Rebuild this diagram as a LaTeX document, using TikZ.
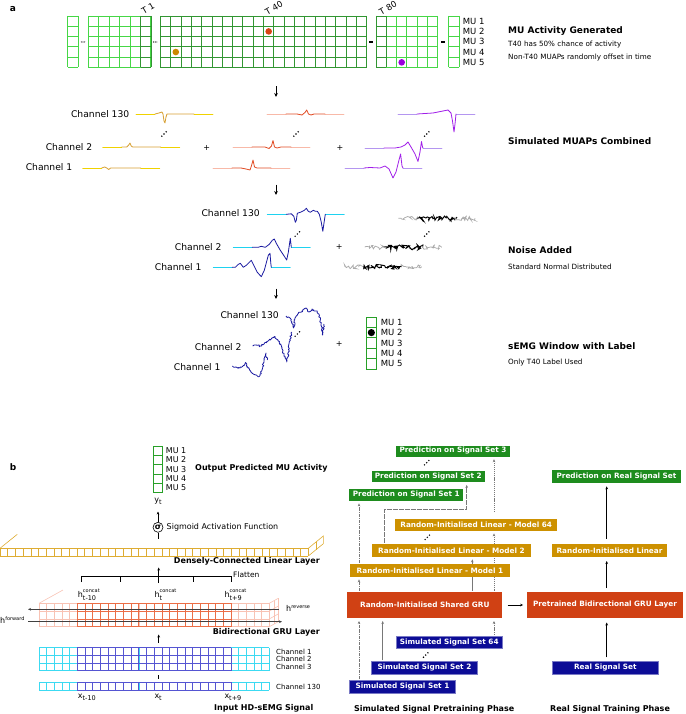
\documentclass[tikz,border=0pt]{standalone}
\usepackage{fontspec}
\setmainfont{DejaVu Sans}
\usetikzlibrary{arrows.meta,decorations.pathmorphing,calc}
\pgfdeclarelayer{bg}
\pgfsetlayers{bg,main}
\definecolor{lgreen}{RGB}{70,215,70}
\definecolor{dgreen}{RGB}{50,150,50}
\definecolor{mugreen}{RGB}{40,160,40}
\definecolor{cyel}{RGB}{240,210,0}
\definecolor{cochre}{RGB}{215,160,50}
\definecolor{cpink}{RGB}{248,185,168}
\definecolor{credw}{RGB}{225,75,35}
\definecolor{clpurp}{RGB}{180,150,240}
\definecolor{cpurp}{RGB}{160,30,232}
\definecolor{ccyan}{RGB}{30,210,240}
\definecolor{cblue}{RGB}{25,25,160}
\definecolor{cngray}{RGB}{170,170,170}
\definecolor{dotred}{RGB}{216,67,21}
\definecolor{dotor}{RGB}{204,136,0}
\definecolor{dotpu}{RGB}{153,0,221}
\definecolor{boxgreen}{RGB}{30,140,30}
\definecolor{boxorange}{RGB}{205,145,0}
\definecolor{boxred}{RGB}{208,65,20}
\definecolor{boxblue}{RGB}{12,12,150}
\definecolor{densec}{RGB}{222,172,50}
\definecolor{grulight}{RGB}{248,195,180}
\definecolor{grudark}{RGB}{235,110,70}
\definecolor{incyan}{RGB}{60,218,242}
\definecolor{inblue}{RGB}{85,85,210}
\definecolor{connc}{RGB}{120,120,120}
\newcommand{\cellgrid}[7]{%
\foreach \ii in {0,...,#5} \draw[#1] (#2,{#3+\ii*#7}) -- ({#2+#4*#6},{#3+\ii*#7});
\foreach \jj in {0,...,#4} \draw[#1] ({#2+\jj*#6},#3) -- ({#2+\jj*#6},{#3+#5*#7});
}
\newcommand{\diagdots}[2]{\fill[black] ({#1-2.2},{#2+2.2}) circle (0.8) (#1,#2) circle (0.8) ({#1+2.2},{#2-2.2}) circle (0.8);}
\newcommand{\mtrace}[5]{%
\begin{scope}[shift={(#1,#2)}]
\draw[trc,#3] (0,0)--(19,0) (58,0)--(77,0);
\draw[trc,#4] #5;
\end{scope}}
\newcommand{\hlab}[2]{h\rlap{\raisebox{5.3pt}{\fontsize{5}{5}\selectfont #1}}\raisebox{-3pt}{\fontsize{6.5}{6.5}\selectfont #2}}
\newcommand{\xlab}[1]{x\raisebox{-2.2pt}{\fontsize{6.5}{6.5}\selectfont #1}}
\begin{document}
\begin{tikzpicture}[x=1pt,y=-1pt,
  lab/.style={inner sep=0pt, anchor=east, font=\fontsize{9.2}{10}\selectfont},
  mutxt/.style={inner sep=0pt, anchor=west, font=\fontsize{8.5}{9}\selectfont},
  hdr/.style={inner sep=0pt, anchor=west, font=\bfseries\fontsize{9}{10}\selectfont},
  dsc/.style={inner sep=0pt, anchor=west, font=\fontsize{7.2}{8}\selectfont},
  bhdr/.style={inner sep=0pt, font=\bfseries\fontsize{8}{9}\selectfont},
  btxt/.style={inner sep=0pt, anchor=west, font=\fontsize{8}{9}\selectfont},
  ctxt/.style={inner sep=0pt, anchor=west, font=\fontsize{7}{8}\selectfont},
  trc/.style={line width=0.8pt, line join=round, line cap=round},
  arr/.style={-{Stealth[length=3pt,width=2.6pt]}, line width=0.5pt},
  bigarr/.style={-{Stealth[length=4pt,width=3.6pt]}, line width=0.7pt},
  lgc/.style={draw=lgreen, line width=0.8pt},
  dgc/.style={draw=dgreen, line width=0.8pt},
  mgc/.style={draw=mugreen, line width=0.8pt},
  nz/.style={line width=0.75pt, decorate, decoration={random steps, segment length=1.2pt, amplitude=2.2pt}},
  nzb/.style={line width=0.95pt, decorate, decoration={random steps, segment length=1pt, amplitude=2.6pt}},
  semg/.style={draw=cblue, line width=0.8pt, line join=round, decorate, decoration={random steps, segment length=1.1pt, amplitude=0.9pt}},
  densel/.style={draw=densec, line width=0.6pt},
  grul/.style={draw=grulight, line width=0.6pt},
  grud/.style={draw=grudark, line width=0.65pt},
  inl/.style={draw=incyan, line width=0.6pt},
  ind/.style={draw=inblue, line width=0.65pt},
  bx/.style={font=\bfseries\fontsize{7.3}{8}\selectfont, text=white, inner sep=0pt, anchor=center},
  cn/.style={draw=connc, line width=0.6pt, shorten >=2.5pt, shorten <=1pt},
  ]
\useasboundingbox (0,0) rectangle (685,714);
\pgfmathsetseed{11}

% ================= section a =================
\node[inner sep=0pt, font=\bfseries\fontsize{9}{10}\selectfont] (la) at (13,9) {a};

% grids
\cellgrid{lgc}{67.7}{16}{1}{5}{10.3}{10.3}
\cellgrid{lgc}{88.3}{16}{6}{5}{10.4}{10.3}
\cellgrid{dgc}{140.7}{16}{1}{5}{10.4}{10.3}
\cellgrid{dgc}{160.3}{16}{20}{5}{10.32}{10.3}
\cellgrid{lgc}{376}{16}{6}{5}{10.28}{10.3}
\cellgrid{dgc}{376}{16}{1}{5}{10.28}{10.3}
\cellgrid{lgc}{448.7}{16}{1}{5}{10.3}{10.3}

% separators
\fill (81.3,42) circle (0.55) (83,42) circle (0.55) (84.7,42) circle (0.55);
\fill (153.5,42) circle (0.55) (155.2,42) circle (0.55) (156.9,42) circle (0.55);
\draw[line width=1.1pt] (369,42)--(373.2,42);
\draw[line width=1.1pt] (441,42)--(445.2,42);

% T labels
\node[rotate=30, inner sep=0pt, font=\fontsize{8.5}{9}\selectfont] (t1) at (148,8) {T 1};
\node[rotate=30, inner sep=0pt, font=\fontsize{8.5}{9}\selectfont] (t40) at (274,8) {T 40};
\node[rotate=30, inner sep=0pt, font=\fontsize{8.5}{9}\selectfont] (t80) at (388,8) {T 80};

% activity dots
\fill[dotred] (268.7,31.45) circle (3.3);
\fill[dotor] (175.8,52.05) circle (3.3);
\fill[dotpu] (401.7,62.35) circle (3.3);

% MU labels
\node[mutxt] (mu1) at (462.7,21.15) {MU 1};
\node[mutxt] (mu2) at (462.7,31.45) {MU 2};
\node[mutxt] (mu3) at (462.7,41.75) {MU 3};
\node[mutxt] (mu4) at (462.7,52.05) {MU 4};
\node[mutxt] (mu5) at (462.7,62.35) {MU 5};

\node[hdr] (h1) at (508,31) {MU Activity Generated};
\node[dsc] (d1) at (508,45) {T40 has 50\% chance of activity};
\node[dsc] (d2) at (508,58) {Non-T40 MUAPs randomly offset in time};

\coordinate (ar1a) at (276,86.5); \coordinate (ar1b) at (276,97);
\draw[bigarr] (ar1a) -- (ar1b);

% simulated MUAPs
\node[lab] (c130a) at (129.5,114) {Channel 130};
\node[lab] (c2a) at (92.5,147.3) {Channel 2};
\node[lab] (c1a) at (72.5,167.5) {Channel 1};

\mtrace{136}{114}{cyel}{cochre}{(19,0)--(23,-1)--(26,-2)--(27,0)--(28,7)--(29,9)--(30,3)--(31,0)--(58,0)}
\mtrace{102.7}{147}{cyel}{cochre}{(19,0)--(24,0)--(26,-2)--(27.3,-4)--(28.5,-1)--(30,0)--(58,0)}
\mtrace{82.7}{168}{cyel}{cochre}{(19,0)--(22,-1)--(24,0)--(26,1.5)--(28,0)--(58,0)}
\diagdots{164}{134}

\mtrace{267}{114}{cpink}{credw}{(19,0)--(30,0)--(35,1)--(38,-1.5)--(39.7,-4)--(41.5,0)--(44,1)--(47,0)--(58,0)}
\mtrace{233}{147}{cpink}{credw}{(19,0)--(32,0)--(36,1.5)--(38.5,-1)--(40,-6.5)--(41.5,0)--(44,1)--(48,0)--(58,0)}
\mtrace{213}{168}{cpink}{credw}{(19,0)--(28,0)--(33,1)--(37,2)--(38.7,-3)--(40,-8)--(41.5,-1)--(44,0)--(58,0)}
\diagdots{296}{134}

\mtrace{398}{114}{clpurp}{cpurp}{(19,0)--(35,-1)--(45,-3)--(50,-4)--(53,-1)--(54.5,7)--(56,18)--(57,10)--(58,0)}
\mtrace{365}{148}{clpurp}{cpurp}{(19,0)--(30,0)--(36,-1)--(40,-3)--(43,-6)--(46,-1)--(50,6)--(53,13.5)--(55,4)--(56.5,-6.5)--(57.5,-1)--(58,0)}
\mtrace{345}{168}{clpurp}{cpurp}{(19,0)--(25,-0.5)--(35,0)--(40,-2)--(44,1)--(48,10)--(51,4)--(54,-8)--(55.6,-14)--(57,-2)--(58,0)}
\diagdots{426.7}{134}

\node[inner sep=0pt, font=\fontsize{8}{8}\selectfont] (plus1) at (206.7,148) {+};
\node[inner sep=0pt, font=\fontsize{8}{8}\selectfont] (plus2) at (340,148) {+};

\node[hdr] (h2) at (508,141) {Simulated MUAPs Combined};

\coordinate (ar2a) at (276,184.5); \coordinate (ar2b) at (276,195);
\draw[bigarr] (ar2a) -- (ar2b);

% noise added
\node[lab] (c130b) at (260,213.5) {Channel 130};
\node[lab] (c2b) at (221.7,247.3) {Channel 2};
\node[lab] (c1b) at (201.7,266.7) {Channel 1};

\mtrace{267.3}{214.3}{ccyan}{cblue}{(19,0)--(24,-0.5)--(26.5,2)--(28,8)--(29,6)--(30,-1)--(33,-2)--(37,-4)--(39,-6)--(41,-3)--(43,-2)--(46,-4)--(48,-3)--(50,-3)--(52,0)--(54,8)--(55.5,17)--(56.5,10)--(58,0)}
\mtrace{233.3}{247.3}{ccyan}{cblue}{(19,0)--(25,0)--(28,-1)--(32,0)--(36,-3)--(39,-7)--(41,-8.3)--(43,-4)--(47,3)--(51,9)--(53.4,12.7)--(55,5)--(57,-9)--(58,0)}
\mtrace{213.3}{267.3}{ccyan}{cblue}{(19,0)--(22,0)--(25,-3)--(27,-4)--(30,0)--(33,-2)--(38,-7)--(40,-3)--(44,5)--(48,9.4)--(51,3)--(55,-12)--(56.7,-14)--(57.5,-4)--(58,0)}
\diagdots{297.3}{234}

\node[inner sep=0pt, font=\fontsize{8}{8}\selectfont] (plus3) at (339.3,247.3) {+};

\draw[nz, cngray] (398.3,218.3)--(417.3,218.3);
\draw[nzb, black] (417.3,218.3)--(456,218.3);
\draw[nz, cngray] (456,218.3)--(475,218.3);
\draw[nz, cngray] (365,247.3)--(384,247.3);
\draw[nzb, black] (384,247.3)--(422.7,247.3);
\draw[nz, cngray] (422.7,247.3)--(441.7,247.3);
\draw[nz, cngray] (345,266.7)--(363.3,266.7);
\draw[nzb, black] (363.3,266.7)--(401.7,266.7);
\draw[nz, cngray] (401.7,266.7)--(421.7,266.7);
\diagdots{426.7}{234}

\node[hdr] (h3) at (508,250) {Noise Added};
\node[dsc] (d3) at (508,267) {Standard Normal Distributed};

\coordinate (ar3a) at (276,288.5); \coordinate (ar3b) at (276,299);
\draw[bigarr] (ar3a) -- (ar3b);

% sEMG window
\node[lab] (c130c) at (279,315) {Channel 130};
\node[lab] (c2c) at (241.7,346.7) {Channel 2};
\node[lab] (c1c) at (220.7,366.7) {Channel 1};

\draw[semg] (286,316)--(290,318)--(292,322)--(293.5,328)--(295,318)--(298,314)--(302,311)--(306,308)--(309,312)--(312,309)--(316,311)--(319,314)--(321,324)--(322.7,335)--(324,324);
\draw[semg] (252.7,346)--(256,345)--(260,346)--(264,344)--(268,341)--(272,338)--(275,336.5)--(278,340)--(282,349)--(285,358)--(286.7,362)--(288.5,352)--(290,340)--(291.7,332);
\draw[semg] (232.3,366)--(236,367)--(240,368)--(243,366)--(246,363)--(248,368)--(252,373)--(256,375)--(259,376.7)--(262,370)--(265,356)--(266,353)--(267.3,360);
\diagdots{297.3}{334}
\node[inner sep=0pt, font=\fontsize{8}{8}\selectfont] (plus4) at (339.3,344.3) {+};

\cellgrid{mgc}{366}{317}{1}{5}{10.7}{10.4}
\fill[black] (371.35,332.6) circle (3.6);
\node[mutxt] (lmu1) at (380.7,322.2) {MU 1};
\node[mutxt] (lmu2) at (380.7,332.6) {MU 2};
\node[mutxt] (lmu3) at (380.7,343) {MU 3};
\node[mutxt] (lmu4) at (380.7,353.4) {MU 4};
\node[mutxt] (lmu5) at (380.7,363.8) {MU 5};

\node[hdr] (h4) at (508,346) {sEMG Window with Label};
\node[dsc] (d4) at (508,362.5) {Only T40 Label Used};

% ================= section b =================
\node[inner sep=0pt, font=\bfseries\fontsize{9}{10}\selectfont] (lb) at (13,467) {b};

% output MU column
\cellgrid{mgc}{153.3}{446}{1}{5}{9}{9.34}
\node[btxt] (omu1) at (165.7,450.7) {MU 1};
\node[btxt] (omu2) at (165.7,460) {MU 2};
\node[btxt] (omu3) at (165.7,469.4) {MU 3};
\node[btxt] (omu4) at (165.7,478.7) {MU 4};
\node[btxt] (omu5) at (165.7,488) {MU 5};
\node[bhdr, anchor=west] (oph) at (195,468.3) {Output Predicted MU Activity};
\node[inner sep=0pt, font=\fontsize{8}{9}\selectfont] (yt) at (158,501) {y\raisebox{-2pt}{\fontsize{6.5}{6.5}\selectfont t}};

\node[draw, circle, inner sep=0pt, minimum size=10pt, line width=0.6pt, font=\bfseries\fontsize{8}{8}\selectfont] (sig) at (158,527.3) {σ};
\coordinate (sigtop) at (158,511.5);
\draw[arr] (sig.north) -- (sigtop);
\coordinate (sigbot) at (158,539);
\draw[line width=0.5pt] (sig.south) -- (sigbot);
\node[btxt] (sigl) at (166.5,527.3) {Sigmoid Activation Function};

% dense layer
\foreach \j in {0,...,40} \draw[densel] ({\j*7.708},548.3)--({\j*7.708},556);
\draw[densel] (0,548.3)--(308.3,548.3) (0,556)--(308.3,556);
\draw[densel] (0,548.3)--(17.3,534.3);
\draw[densel] (308.3,548.3)--(323.3,536)--(323.3,543.7)--(308.3,556);
\draw[densel] (315.8,542.15)--(315.8,549.85);
\node[bhdr, anchor=east] (dll) at (320,561.7) {Densely-Connected Linear Layer};

% flatten bracket
\coordinate (fl0) at (158.7,583); \coordinate (fl1) at (158.7,567.5);
\draw[arr] (fl0) -- (fl1);
\draw[line width=0.5pt] (81,582)--(81,576.7)--(231.7,576.7)--(231.7,582) (120.7,576.7)--(120.7,582) (193.3,576.7)--(193.3,582);
\node[inner sep=0pt, anchor=west, font=\fontsize{7.5}{8}\selectfont] (flat) at (233,574.5) {Flatten};

\node[inner sep=0pt, anchor=west, font=\fontsize{8}{9}\selectfont] (hc1) at (77.7,595) {\hlab{concat}{t-10}};
\node[inner sep=0pt, anchor=west, font=\fontsize{8}{9}\selectfont] (hc2) at (154.3,595) {\hlab{concat}{t}};
\node[inner sep=0pt, anchor=west, font=\fontsize{8}{9}\selectfont] (hc3) at (224.3,595) {\hlab{concat}{t+9}};

% GRU layer
\cellgrid{grul}{39}{603.3}{30}{3}{7.677}{7.8}
\cellgrid{grud}{77.385}{603.3}{20}{3}{7.677}{7.8}
\draw[grul] (39,603.3)--(63,590);
\draw[grul] (269.3,603.3)--(278.3,598.3) (269.3,611.1)--(278.3,606.1) (269.3,618.9)--(278.3,613.9) (269.3,626.7)--(278.3,621.7);
\draw[grul] (273.8,600.8)--(273.8,624.2) (278.3,598.3)--(278.3,621.7);

\coordinate (hr0) at (279,609.3); \coordinate (hr1) at (28,609.3);
\draw[arr, draw=black!75] (hr0) -- (hr1);
\coordinate (hf0) at (28,621.7); \coordinate (hf1) at (282,621.7);
\draw[arr, draw=black!75] (hf0) -- (hf1);
\node[inner sep=0pt, anchor=west, font=\fontsize{8}{9}\selectfont] (hrev) at (286,608.5) {h\raisebox{3.6pt}{\fontsize{5}{5}\selectfont reverse}};
\node[inner sep=0pt, anchor=west, font=\fontsize{8}{9}\selectfont] (hfor) at (0,620) {h\raisebox{3.6pt}{\fontsize{5}{5}\selectfont forward}};
\node[bhdr, anchor=east] (grul) at (320,632.7) {Bidirectional GRU Layer};

\coordinate (gi0) at (158.7,643); \coordinate (gi1) at (158.7,634.5);
\draw[arr] (gi0) -- (gi1);

% input grid
\cellgrid{inl}{39}{647.7}{30}{3}{7.677}{7.67}
\cellgrid{ind}{77.385}{647.7}{20}{3}{7.677}{7.67}
\cellgrid{inl}{39}{682.3}{30}{1}{7.677}{7.7}
\cellgrid{ind}{77.385}{682.3}{20}{1}{7.677}{7.7}
\coordinate (iv0) at (158.7,678.5); \coordinate (iv1) at (158.7,674.5);
\draw[line width=0.7pt] (iv0) -- (iv1);
\node[ctxt] (ch1) at (276,651.7) {Channel 1};
\node[ctxt] (ch2) at (276,659.3) {Channel 2};
\node[ctxt] (ch3) at (276,667.3) {Channel 3};
\node[ctxt] (ch130) at (276,686.7) {Channel 130};
\node[inner sep=0pt, anchor=west, font=\fontsize{8}{9}\selectfont] (x1) at (77.7,697.3) {\xlab{t-10}};
\node[inner sep=0pt, anchor=west, font=\fontsize{8}{9}\selectfont] (x2) at (154.3,697.3) {\xlab{t}};
\node[inner sep=0pt, anchor=west, font=\fontsize{8}{9}\selectfont] (x3) at (224.3,697.3) {\xlab{t+9}};
\node[bhdr, anchor=east] (inp) at (313.5,708.3) {Input HD-sEMG Signal};

% ================= flow chart =================
\node[bx, fill=boxgreen, minimum width=114pt, minimum height=11pt] (p3) at (453,451) {Prediction on Signal Set 3};
\node[bx, fill=boxgreen, minimum width=113.3pt, minimum height=11pt] (p2) at (428.3,476.7) {Prediction on Signal Set 2};
\node[bx, fill=boxgreen, minimum width=114pt, minimum height=11.4pt] (p1) at (406.3,495) {Prediction on Signal Set 1};
\node[bx, fill=boxorange, minimum width=162.3pt, minimum height=11.4pt] (m64) at (476.2,525) {Random-Initialised Linear - Model 64};
\node[bx, fill=boxorange, minimum width=158.4pt, minimum height=12.7pt] (m2) at (451.5,550.3) {Random-Initialised Linear - Model 2};
\node[bx, fill=boxorange, minimum width=160pt, minimum height=12.7pt] (m1) at (430,570.3) {Random-Initialised Linear - Model 1};
\node[bx, fill=boxred, minimum width=155pt, minimum height=26.6pt] (gru) at (424.8,605) {Random-Initialised Shared GRU};
\node[bx, fill=boxblue, draw=boxblue!55!white, line width=0.5pt, minimum width=106.3pt, minimum height=12.3pt] (s64) at (449.2,642.2) {Simulated Signal Set 64};
\node[bx, fill=boxblue, draw=boxblue!55!white, line width=0.5pt, minimum width=105.6pt, minimum height=12.6pt] (s2) at (424.5,668) {Simulated Signal Set 2};
\node[bx, fill=boxblue, draw=boxblue!55!white, line width=0.5pt, minimum width=106.4pt, minimum height=13.3pt] (s1) at (402.5,686.7) {Simulated Signal Set 1};
\node[bhdr] (simph) at (434.2,709) {Simulated Signal Pretraining Phase};

\node[bx, fill=boxgreen, minimum width=128.4pt, minimum height=12.7pt] (pr) at (616.5,476.3) {Prediction on Real Signal Set};
\node[bx, fill=boxorange, minimum width=114.4pt, minimum height=13pt] (rl) at (609.5,550.8) {Random-Initialised Linear};
\node[bx, fill=boxred, minimum width=155.4pt, minimum height=26.6pt] (pgru) at (605,605) {Pretrained Bidirectional GRU Layer};
\node[bx, fill=boxblue, draw=boxblue!55!white, line width=0.5pt, minimum width=106pt, minimum height=12.6pt] (rs) at (605.3,668) {Real Signal Set};
\node[bhdr] (realph) at (610,709) {Real Signal Training Phase};

\diagdots{426.7}{462.7}
\diagdots{427.3}{537.3}
\diagdots{425.7}{655}

\coordinate (xa) at (359,0); \coordinate (xb) at (382.7,0); \coordinate (xc) at (472.3,0);
\coordinate (xd) at (494,0); \coordinate (xe) at (384.3,0); \coordinate (xf) at (466.7,0);
\coordinate (xr) at (606.7,0); \coordinate (bend) at (0,509.3);

\begin{pgfonlayer}{bg}
\draw[arr, cn, dash pattern=on 3pt off 1pt on 0.7pt off 1pt] (s1.north -| xa) -- (gru.south -| xa);
\draw[arr, cn] (s2.north -| xb) -- (gru.south -| xb);
\draw[arr, cn, dash pattern=on 1.2pt off 0.9pt] (s64.north -| xd) -- (gru.south -| xd);
\draw[arr, cn, dash pattern=on 3pt off 1pt on 0.7pt off 1pt] (gru.north -| xa) -- (m1.south -| xa);
\draw[arr, cn] (gru.north -| xc) -- (m2.south -| xc);
\draw[arr, cn, dash pattern=on 1.2pt off 0.9pt] (gru.north -| xd) -- (m64.south -| xd);
\draw[arr, cn, dash pattern=on 3pt off 1pt on 0.7pt off 1pt] (m1.north -| xa) -- (p1.south -| xa);
\draw[arr, cn, dash pattern=on 5pt off 1pt] (m2.north -| xe) -- (xe |- bend) -- (xf |- bend) -- (p2.south -| xf);
\draw[arr, cn, dash pattern=on 1.2pt off 0.9pt, shorten <=7pt] (m64.north -| xd) -- (p3.south -| xd);
\end{pgfonlayer}

\draw[arr, shorten <=5pt, shorten >=4pt] (gru.east) -- (pgru.west);
\draw[arr, shorten <=4pt, shorten >=4pt] (rs.north -| xr) -- (pgru.south -| xr);
\draw[arr, shorten <=3.5pt, shorten >=3.5pt] (pgru.north -| xr) -- (rl.south -| xr);
\draw[arr, shorten <=5.5pt, shorten >=3.5pt] (rl.north -| xr) -- (pr.south -| xr);
\end{tikzpicture}
\end{document}
